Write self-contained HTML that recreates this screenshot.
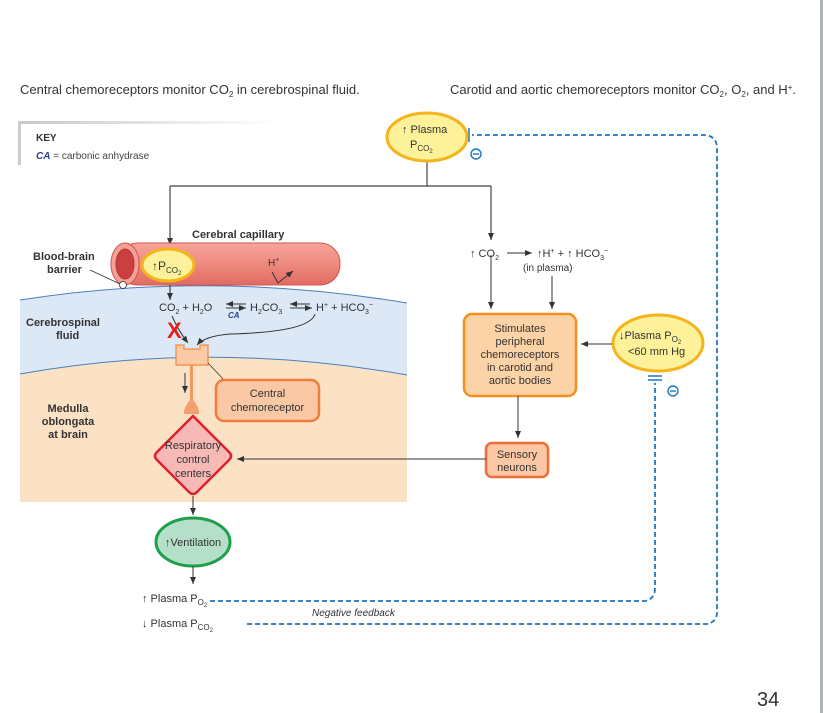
<!DOCTYPE html>
<html><head><meta charset="utf-8"><style>
html,body{margin:0;padding:0;background:#fff;}
svg{display:block;font-family:"Liberation Sans",Arial,sans-serif;}
</style></head><body>
<svg width="823" height="713" viewBox="0 0 823 713" xmlns="http://www.w3.org/2000/svg">
<defs>
<marker id="ar" markerWidth="8" markerHeight="8" refX="7" refY="4" orient="auto" markerUnits="userSpaceOnUse"><path d="M0,1 L7,4 L0,7 Z" fill="#333"/></marker>
<linearGradient id="cap" x1="0" y1="0" x2="0" y2="1"><stop offset="0" stop-color="#f6a59b"/><stop offset="0.5" stop-color="#ef8a7e"/><stop offset="1" stop-color="#e06b63"/></linearGradient>
<linearGradient id="keyg" x1="0" y1="0" x2="1" y2="0"><stop offset="0" stop-color="#c8c8c8"/><stop offset="1" stop-color="#fff"/></linearGradient>
</defs>
<rect x="820" y="0" width="3" height="713" fill="#b0b4b8"/>

<text x="20" y="94" font-size="13" fill="#333">Central chemoreceptors monitor CO<tspan font-size="8" dy="3">2</tspan><tspan dy="-3"> in cerebrospinal fluid.</tspan></text>
<text x="450" y="94" font-size="13" fill="#333">Carotid and aortic chemoreceptors monitor CO<tspan font-size="8" dy="3">2</tspan><tspan dy="-3">, O</tspan><tspan font-size="8" dy="3">2</tspan><tspan dy="-3">, and H</tspan><tspan font-size="8" dy="-4">+</tspan><tspan dy="4">.</tspan></text>

<!-- key -->
<rect x="18" y="121" width="262" height="3" fill="url(#keyg)"/>
<rect x="18" y="121" width="3" height="44" fill="#ccc"/>
<text x="36" y="141" font-size="10" font-weight="bold" fill="#333">KEY</text>
<text x="36" y="159" font-size="10" fill="#444"><tspan fill="#2a3f8f" font-style="italic" font-weight="bold">CA</tspan> = carbonic anhydrase</text>

<!-- regions -->
<path d="M20,300 Q210,270 407,303 L407,375 Q210,340 20,374 Z" fill="#dce8f6"/>
<path d="M20,300 Q210,270 407,303" fill="none" stroke="#4a7fc0" stroke-width="1"/>
<path d="M20,374 Q210,340 407,375 L407,502 L20,502 Z" fill="#fce2c4"/>
<path d="M20,374 Q210,340 407,375" fill="none" stroke="#4a7fc0" stroke-width="1"/>

<!-- top connector -->
<line x1="427" y1="161" x2="427" y2="186" stroke="#444" stroke-width="1.2"/>
<line x1="170" y1="186" x2="491" y2="186" stroke="#444" stroke-width="1.2"/>
<line x1="170" y1="186" x2="170" y2="245" stroke="#444" stroke-width="1.2" marker-end="url(#ar)"/>
<line x1="491" y1="186" x2="491" y2="240" stroke="#444" stroke-width="1.2" marker-end="url(#ar)"/>

<!-- capillary -->
<text x="192" y="238" font-size="11" font-weight="bold" fill="#333">Cerebral capillary</text>
<rect x="118" y="243" width="222" height="42" rx="20" fill="url(#cap)" stroke="#d9534f" stroke-width="1"/>
<ellipse cx="125" cy="264" rx="14" ry="21" fill="#f2a197" stroke="#d9534f"/>
<ellipse cx="125" cy="264" rx="9" ry="15" fill="#c9403e" stroke="#b33"/>
<ellipse cx="168" cy="265" rx="26" ry="16" fill="#fdf29a" stroke="#f5b31c" stroke-width="3"/>
<text x="152" y="270" font-size="12" fill="#333">↑P<tspan font-size="8" dy="3">CO</tspan><tspan font-size="6" dy="2">2</tspan></text>
<text x="268" y="266" font-size="10" fill="#333">H<tspan font-size="7" dy="-4">+</tspan></text>
<path d="M272,272 L278,283 L293,271" fill="none" stroke="#333" stroke-width="1" marker-end="url(#ar)"/>
<text x="33" y="260" font-size="11" font-weight="bold" fill="#333">Blood-brain</text>
<text x="47" y="273" font-size="11" font-weight="bold" fill="#333">barrier</text>
<line x1="90" y1="270" x2="120" y2="284" stroke="#333" stroke-width="0.8"/>
<circle cx="123" cy="285" r="3.5" fill="#fff" stroke="#333" stroke-width="0.8"/>

<!-- equation -->
<line x1="170" y1="285" x2="170" y2="300" stroke="#444" stroke-width="1.2" marker-end="url(#ar)"/>
<text x="159" y="311" font-size="11" fill="#333">CO<tspan font-size="7" dy="3">2</tspan><tspan dy="-3"> + H</tspan><tspan font-size="7" dy="3">2</tspan><tspan dy="-3">O</tspan></text>
<line x1="246" y1="304" x2="226" y2="304" stroke="#333" stroke-width="1" marker-end="url(#ar)"/>
<line x1="226" y1="308" x2="246" y2="308" stroke="#333" stroke-width="1" marker-end="url(#ar)"/>
<text x="228" y="318" font-size="8" font-style="italic" font-weight="bold" fill="#2a3f8f">CA</text>
<text x="250" y="311" font-size="11" fill="#333">H<tspan font-size="7" dy="3">2</tspan><tspan dy="-3">CO</tspan><tspan font-size="7" dy="3">3</tspan></text>
<line x1="310" y1="304" x2="290" y2="304" stroke="#333" stroke-width="1" marker-end="url(#ar)"/>
<line x1="290" y1="308" x2="312" y2="308" stroke="#333" stroke-width="1" marker-end="url(#ar)"/>
<text x="316" y="311" font-size="11" fill="#333">H<tspan font-size="7" dy="-4">+</tspan><tspan dy="4"> + HCO</tspan><tspan font-size="7" dy="3">3</tspan><tspan font-size="7" dy="-7">−</tspan></text>
<path d="M315,314 Q310,332 230,334 Q205,336 197,345" fill="none" stroke="#333" stroke-width="1" marker-end="url(#ar)"/>
<path d="M172,316 Q178,330 188,343" fill="none" stroke="#333" stroke-width="1" marker-end="url(#ar)"/>
<text x="167" y="338" font-size="22" font-weight="bold" fill="#e8201c">X</text>
<text x="26" y="326" font-size="11" font-weight="bold" fill="#333">Cerebrospinal</text>
<text x="56" y="339" font-size="11" font-weight="bold" fill="#333">fluid</text>

<!-- receptor -->
<path d="M176,345 h8 v4 h16 v-4 h8 v20 h-32 Z" fill="#fccaa6" stroke="#f08a40" stroke-width="1.2"/>
<rect x="190" y="365" width="3" height="35" fill="#f09a60"/>
<path d="M191.5,398 Q183,408 184,414 L199,414 Q200,408 191.5,398 Z" fill="#f2a070"/>
<line x1="185" y1="373" x2="185" y2="393" stroke="#333" stroke-width="1" marker-end="url(#ar)"/>
<line x1="208" y1="363" x2="225" y2="381" stroke="#333" stroke-width="0.8"/>
<rect x="216" y="380" width="103" height="41" rx="8" fill="#f9c9a5" stroke="#f07d3a" stroke-width="2.5"/>
<text x="267.5" y="397" font-size="11" fill="#333" text-anchor="middle">Central</text>
<text x="267.5" y="411" font-size="11" fill="#333" text-anchor="middle">chemoreceptor</text>
<text x="68" y="412" font-size="11" font-weight="bold" fill="#333" text-anchor="middle">Medulla</text>
<text x="68" y="425" font-size="11" font-weight="bold" fill="#333" text-anchor="middle">oblongata</text>
<text x="68" y="438" font-size="11" font-weight="bold" fill="#333" text-anchor="middle">at brain</text>

<!-- diamond -->
<path d="M193,416 L229,452 Q233,456 229,460 L197,492 Q193,496 189,492 L157,460 Q153,456 157,452 L189,420 Q193,416 193,416 Z" fill="#f6b9b6" stroke="#e0202c" stroke-width="2.5"/>
<text x="193" y="449" font-size="11" fill="#333" text-anchor="middle">Respiratory</text>
<text x="193" y="463" font-size="11" fill="#333" text-anchor="middle">control</text>
<text x="193" y="477" font-size="11" fill="#333" text-anchor="middle">centers</text>
<line x1="193" y1="496" x2="193" y2="515" stroke="#333" stroke-width="1" marker-end="url(#ar)"/>

<!-- ventilation -->
<ellipse cx="193" cy="542" rx="37" ry="24" fill="#b5dfc8" stroke="#1ea04a" stroke-width="3"/>
<text x="193" y="546" font-size="11" fill="#333" text-anchor="middle">↑Ventilation</text>
<line x1="193" y1="566" x2="193" y2="584" stroke="#333" stroke-width="1" marker-end="url(#ar)"/>
<text x="142" y="602" font-size="11" fill="#333">↑ Plasma  P<tspan font-size="8" dy="3">O</tspan><tspan font-size="6" dy="2">2</tspan></text>
<text x="142" y="627" font-size="11" fill="#333">↓ Plasma  P<tspan font-size="8" dy="3">CO</tspan><tspan font-size="6" dy="2">2</tspan></text>
<text x="312" y="616" font-size="10" font-style="italic" fill="#333">Negative feedback</text>

<!-- dashed feedback -->
<path d="M210,601 L645,601 Q655,599 655,588 L655,383" fill="none" stroke="#1f76c0" stroke-width="1.8" stroke-dasharray="5,3"/>
<path d="M247,624 L707,624 Q717,622 717,612 L717,148 Q717,137 706,135 L472,135" fill="none" stroke="#1f76c0" stroke-width="1.8" stroke-dasharray="5,3"/>
<line x1="465" y1="128" x2="465" y2="142" stroke="#1f76c0" stroke-width="1.5"/>
<line x1="469" y1="128" x2="469" y2="142" stroke="#1f76c0" stroke-width="1.5"/>
<circle cx="476" cy="154" r="5" fill="none" stroke="#1f76c0" stroke-width="1.4"/><line x1="473" y1="154" x2="479" y2="154" stroke="#1f76c0" stroke-width="1.4"/>
<line x1="648" y1="376" x2="662" y2="376" stroke="#1f76c0" stroke-width="1.5"/>
<line x1="648" y1="380" x2="662" y2="380" stroke="#1f76c0" stroke-width="1.5"/>
<circle cx="673" cy="391" r="5" fill="none" stroke="#1f76c0" stroke-width="1.4"/><line x1="670" y1="391" x2="676" y2="391" stroke="#1f76c0" stroke-width="1.4"/>

<!-- plasma PCO2 top -->
<ellipse cx="427" cy="137" rx="40" ry="24" fill="#fdf29a" stroke="#f5b31c" stroke-width="3"/>
<text x="402" y="133" font-size="11" fill="#333">↑ Plasma</text>
<text x="410" y="148" font-size="11" fill="#333">P<tspan font-size="8" dy="3">CO</tspan><tspan font-size="6" dy="2">2</tspan></text>

<!-- right side -->
<text x="470" y="257" font-size="11" fill="#333">↑ CO<tspan font-size="7" dy="3">2</tspan></text>
<line x1="507" y1="253" x2="532" y2="253" stroke="#333" stroke-width="1" marker-end="url(#ar)"/>
<text x="537" y="257" font-size="11" fill="#333">↑H<tspan font-size="7" dy="-4">+</tspan><tspan dy="4">   +  ↑ HCO</tspan><tspan font-size="7" dy="3">3</tspan><tspan font-size="7" dy="-7">−</tspan></text>
<text x="523" y="271" font-size="10" fill="#333">(in plasma)</text>
<line x1="491" y1="255" x2="491" y2="309" stroke="#333" stroke-width="1" marker-end="url(#ar)"/>
<line x1="552" y1="276" x2="552" y2="309" stroke="#333" stroke-width="1" marker-end="url(#ar)"/>
<rect x="464" y="314" width="112" height="82" rx="8" fill="#fcd3a6" stroke="#f5901e" stroke-width="2.5"/>
<text x="520" y="332" font-size="11" fill="#333" text-anchor="middle">Stimulates</text>
<text x="520" y="345" font-size="11" fill="#333" text-anchor="middle">peripheral</text>
<text x="520" y="358" font-size="11" fill="#333" text-anchor="middle">chemoreceptors</text>
<text x="520" y="371" font-size="11" fill="#333" text-anchor="middle">in carotid and</text>
<text x="520" y="384" font-size="11" fill="#333" text-anchor="middle">aortic bodies</text>
<ellipse cx="658" cy="343" rx="45" ry="28" fill="#fdf29a" stroke="#f5b31c" stroke-width="3"/>
<text x="619" y="339" font-size="11" fill="#333">↓Plasma  P<tspan font-size="8" dy="3">O</tspan><tspan font-size="6" dy="2">2</tspan></text>
<text x="628" y="355" font-size="11" fill="#333">&lt;60 mm Hg</text>
<line x1="612" y1="344" x2="581" y2="344" stroke="#333" stroke-width="1" marker-end="url(#ar)"/>
<line x1="518" y1="396" x2="518" y2="438" stroke="#333" stroke-width="1" marker-end="url(#ar)"/>
<rect x="486" y="443" width="62" height="34" rx="6" fill="#fcc7a4" stroke="#ef6f3a" stroke-width="2.5"/>
<text x="517" y="458" font-size="11" fill="#333" text-anchor="middle">Sensory</text>
<text x="517" y="471" font-size="11" fill="#333" text-anchor="middle">neurons</text>
<line x1="486" y1="459" x2="237" y2="459" stroke="#333" stroke-width="1" marker-end="url(#ar)"/>

<text x="757" y="706" font-size="20" fill="#333">34</text>
</svg>
</body></html>
